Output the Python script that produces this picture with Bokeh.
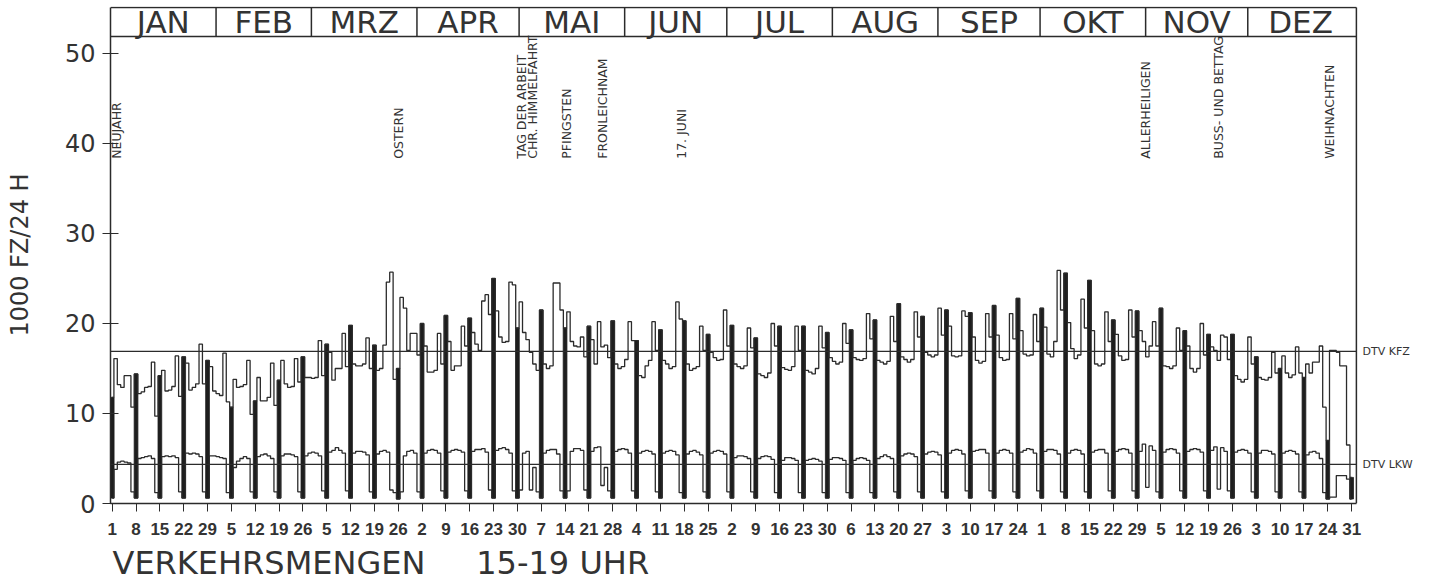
import math
from bokeh.plotting import figure
from bokeh.models import Range1d, FixedTicker, Title
from bokeh.core.properties import value
from bokeh.embed import file_html
from bokeh.resources import INLINE

# ---------------- data ----------------
months = ["JAN", "FEB", "MRZ", "APR", "MAI", "JUN", "JUL", "AUG", "SEP", "OKT", "NOV", "DEZ"]
month_start = [0, 31, 59, 90, 120, 151, 181, 212, 243, 273, 304, 334]
month_len = [31, 28, 31, 30, 31, 30, 31, 31, 30, 31, 30, 31]

# Sunday tick labels (1989, Jan 1 = Sunday)
sunday_labels = ["1", "8", "15", "22", "29", "5", "12", "19", "26", "5", "12", "19", "26",
                 "2", "9", "16", "23", "30", "7", "14", "21", "28", "4", "11", "18", "25",
                 "2", "9", "16", "23", "30", "6", "13", "20", "27", "3", "10", "17", "24",
                 "1", "8", "15", "22", "29", "5", "12", "19", "26", "3", "10", "17", "24", "31"]

# KFZ per week [So, Mo, Di, Mi, Do, Fr, Sa], 1000 Fz / 24 h
kfz_weeks = [
    [11.8, 16.1, 13.2, 12.9, 14.2, 14.2, 10.7],
    [14.4, 12.2, 12.4, 12.9, 13.0, 15.7, 9.7],
    [14.2, 14.8, 12.5, 12.6, 13.0, 16.4, 11.9],
    [16.3, 15.6, 12.6, 12.9, 13.3, 17.7, 13.3],
    [15.9, 15.2, 12.5, 12.2, 12.0, 16.7, 11.3],
    [10.7, 13.8, 12.9, 13.0, 13.2, 15.9, 9.9],
    [11.4, 14.0, 11.4, 11.4, 11.8, 15.6, 10.9],
    [13.7, 15.9, 13.3, 12.9, 13.0, 16.1, 13.5],
    [16.3, 14.0, 14.0, 13.9, 14.0, 18.1, 14.2],
    [17.7, 16.8, 13.7, 15.0, 15.0, 18.9, 15.2],
    [19.8, 15.5, 15.3, 15.3, 15.5, 18.4, 15.0],
    [17.6, 14.8, 15.0, 17.6, 24.6, 25.7, 13.8],
    [15.0, 22.9, 21.7, 17.0, 18.9, 18.9, 16.5],
    [20.0, 17.5, 14.6, 14.6, 14.8, 18.9, 15.5],
    [20.9, 18.0, 14.8, 15.3, 15.3, 19.7, 17.5],
    [20.6, 19.0, 17.7, 17.0, 22.5, 23.2, 21.0],
    [25.0, 21.4, 18.5, 17.9, 18.0, 24.6, 24.3],
    [19.5, 22.4, 19.0, 18.2, 16.8, 15.5, 14.8],
    [21.5, 15.5, 15.0, 15.3, 24.5, 24.5, 21.5],
    [19.5, 21.3, 18.0, 17.5, 17.4, 18.5, 16.3],
    [19.7, 18.2, 15.5, 20.2, 17.4, 17.6, 16.2],
    [20.3, 15.5, 15.0, 15.2, 16.0, 20.2, 18.1],
    [18.1, 14.2, 14.0, 15.3, 15.9, 20.2, 17.0],
    [19.3, 15.9, 15.5, 15.0, 15.2, 22.4, 20.5],
    [20.3, 15.5, 14.8, 15.0, 15.2, 19.7, 17.0],
    [18.8, 16.8, 16.2, 15.9, 16.0, 21.5, 17.5],
    [19.8, 15.5, 15.2, 15.0, 15.3, 19.5, 17.3],
    [18.4, 14.4, 14.2, 14.0, 14.5, 20.0, 17.5],
    [19.7, 15.1, 14.9, 14.8, 15.2, 19.7, 17.0],
    [19.7, 14.8, 14.6, 14.4, 15.0, 19.7, 17.3],
    [19.0, 16.2, 15.8, 15.5, 15.7, 20.0, 17.8],
    [19.3, 16.2, 16.0, 15.9, 16.1, 21.1, 18.3],
    [20.4, 15.9, 15.7, 15.5, 15.8, 20.8, 18.0],
    [22.2, 16.3, 16.0, 15.7, 16.0, 21.3, 18.5],
    [20.8, 16.8, 16.5, 16.3, 16.5, 21.7, 18.7],
    [21.5, 19.7, 16.4, 16.3, 16.4, 21.4, 20.8],
    [21.2, 18.5, 15.9, 15.6, 15.8, 21.1, 18.5],
    [22.0, 18.7, 16.2, 15.9, 16.0, 21.1, 18.3],
    [22.8, 19.2, 16.6, 16.4, 16.5, 21.0, 18.0],
    [21.7, 19.6, 16.6, 16.3, 18.0, 25.9, 21.5],
    [25.6, 20.1, 17.2, 16.1, 16.5, 22.7, 19.5],
    [24.8, 19.2, 15.5, 15.3, 15.5, 21.3, 18.0],
    [20.4, 18.8, 16.4, 15.9, 16.0, 21.5, 18.5],
    [21.4, 19.2, 18.0, 16.3, 17.5, 20.2, 17.5],
    [21.7, 15.3, 15.2, 15.0, 15.3, 19.5, 17.0],
    [19.2, 17.5, 15.0, 14.6, 15.0, 20.0, 16.5],
    [18.8, 17.4, 17.0, 15.9, 18.7, 18.5, 16.0],
    [18.8, 14.2, 13.8, 13.5, 13.8, 18.5, 15.5],
    [16.3, 14.0, 13.8, 13.7, 14.0, 16.8, 14.5],
    [15.0, 16.4, 14.5, 14.0, 14.3, 17.4, 14.5],
    [14.0, 15.5, 14.5, 15.7, 15.7, 17.5, 10.7],
    [7.0, 17.0, 17.0, 16.8, 15.3, 15.3, 6.5],
    [2.9],
]

# LKW per week [So, Mo, Di, Mi, Do, Fr, Sa]
lkw_weeks = [
    [0.6, 3.8, 4.6, 4.7, 4.6, 4.5, 1.3],
    [0.6, 5.0, 5.1, 5.2, 5.3, 5.0, 1.2],
    [0.6, 5.2, 5.3, 5.2, 5.3, 5.1, 1.3],
    [0.6, 5.6, 5.5, 5.6, 5.5, 5.2, 1.3],
    [0.6, 5.3, 5.3, 5.2, 5.1, 5.0, 1.2],
    [0.6, 4.0, 4.7, 5.0, 5.2, 5.0, 1.3],
    [0.6, 5.2, 5.4, 5.5, 5.3, 5.0, 1.3],
    [0.6, 5.3, 5.5, 5.5, 5.4, 5.2, 1.3],
    [0.6, 5.3, 5.6, 5.7, 5.6, 5.3, 1.4],
    [0.6, 5.7, 5.9, 6.2, 5.9, 5.6, 1.4],
    [0.6, 5.6, 5.8, 5.8, 5.7, 5.4, 1.3],
    [0.6, 5.5, 5.8, 5.9, 5.7, 1.5, 1.2],
    [0.5, 1.3, 5.3, 5.8, 5.9, 5.6, 1.3],
    [0.6, 5.6, 5.9, 6.0, 5.9, 5.6, 1.4],
    [0.6, 5.7, 5.9, 6.0, 5.9, 5.7, 1.4],
    [0.6, 5.8, 6.0, 6.0, 6.1, 5.7, 1.5],
    [0.6, 5.9, 6.1, 6.2, 6.0, 5.6, 1.4],
    [0.6, 1.5, 5.6, 5.8, 1.5, 4.0, 1.3],
    [0.6, 5.6, 5.9, 6.0, 6.0, 5.5, 1.4],
    [0.6, 1.4, 5.8, 6.1, 6.1, 5.9, 1.5],
    [0.6, 5.8, 6.2, 6.3, 2.0, 4.0, 1.4],
    [0.6, 5.8, 6.0, 6.1, 6.0, 5.6, 1.4],
    [0.6, 5.6, 5.8, 5.9, 5.8, 5.5, 1.3],
    [0.6, 5.6, 5.8, 5.9, 5.8, 5.4, 1.2],
    [0.6, 5.5, 5.8, 5.9, 5.7, 5.4, 1.3],
    [0.6, 5.6, 5.8, 5.9, 5.8, 5.5, 1.3],
    [0.6, 5.1, 5.3, 5.3, 5.2, 5.0, 1.3],
    [0.6, 5.0, 5.2, 5.3, 5.2, 4.9, 1.2],
    [0.6, 4.8, 5.1, 5.1, 5.0, 4.8, 1.2],
    [0.6, 4.8, 4.9, 5.0, 4.9, 4.7, 1.2],
    [0.6, 4.9, 5.1, 5.1, 5.0, 4.8, 1.2],
    [0.6, 4.8, 5.0, 5.1, 5.0, 4.8, 1.2],
    [0.6, 5.0, 5.2, 5.4, 5.2, 5.0, 1.3],
    [0.6, 5.3, 5.5, 5.6, 5.5, 5.2, 1.3],
    [0.6, 5.5, 5.7, 5.8, 5.7, 5.4, 1.3],
    [0.6, 5.6, 5.9, 6.0, 5.9, 5.5, 1.4],
    [0.6, 5.8, 5.9, 6.0, 6.0, 5.6, 1.4],
    [0.6, 5.6, 5.9, 6.0, 5.9, 5.6, 1.3],
    [0.6, 5.7, 5.9, 6.1, 6.0, 5.6, 1.4],
    [0.6, 5.8, 6.0, 6.0, 5.9, 5.5, 1.3],
    [0.6, 5.6, 5.9, 6.0, 5.9, 5.5, 1.3],
    [0.6, 5.7, 5.9, 6.0, 6.0, 5.6, 1.4],
    [0.6, 5.8, 6.0, 6.1, 6.0, 5.6, 1.4],
    [0.6, 5.8, 6.6, 1.8, 6.4, 5.9, 1.3],
    [0.6, 5.7, 6.0, 6.1, 6.0, 5.6, 1.4],
    [0.6, 5.8, 6.0, 6.1, 6.0, 5.7, 1.4],
    [0.6, 5.9, 6.3, 1.6, 6.2, 5.8, 1.4],
    [0.6, 5.7, 5.9, 6.0, 5.9, 5.6, 1.3],
    [0.6, 5.6, 5.9, 5.9, 5.8, 5.5, 1.3],
    [0.6, 5.6, 5.8, 5.9, 5.8, 5.5, 1.3],
    [0.6, 5.4, 5.7, 5.8, 5.6, 5.0, 1.2],
    [0.5, 0.7, 0.7, 3.1, 3.1, 3.1, 2.7],
    [0.5],
]

dtv_names = ["DTV KFZ", "DTV LKW"]
dtv_values = [16.9, 4.35]

holiday_names = ["NEUJAHR", "OSTERN", "TAG DER ARBEIT", "CHR. HIMMELFAHRT", "PFINGSTEN",
                 "FRONLEICHNAM", "17. JUNI", "ALLERHEILIGEN", "BUSS- UND BETTAG", "WEIHNACHTEN"]
holiday_day = [1.3, 84.1, 120.3, 123.4, 133.4, 144.1, 167.2, 303.5, 324.9, 357.5]

# ---------------- derived ----------------
kfz = [v for w in kfz_weeks for v in w]
lkw = [v for w in lkw_weeks for v in w]
days = list(range(len(kfz)))
sundays = days[::7]
kfz_sun = kfz[::7]
lkw_sun = lkw[::7]

INK = "#2b2b2b"
TXT = "#333333"
X0, X1 = -0.5, 365.4      # plotted year
Y_TOP = 55.1              # top of the month header box
HEADER = 51.9             # bottom of the month header box

p = figure(width=1432, height=585,
           x_range=Range1d(X0, 387.75), y_range=Range1d(0, 55.22),
           output_backend="svg", toolbar_location=None,
           min_border_left=110, min_border_right=0,
           min_border_top=6, min_border_bottom=82)
p.background_fill_color = "white"
p.border_fill_color = "white"
p.outline_line_color = None
p.xgrid.visible = False
p.ygrid.visible = False

# frame (right and top edges) and header box
p.segment(x0=[X1, X0, X0], y0=[0, Y_TOP, HEADER], x1=[X1, X1, X1], y1=[Y_TOP, Y_TOP, HEADER],
          line_color=INK, line_width=1.5)
sep_x = [m - 0.5 for m in month_start[1:]]
p.segment(x0=sep_x, y0=[HEADER] * len(sep_x), x1=sep_x, y1=[Y_TOP] * len(sep_x),
          line_color=INK, line_width=1.5)
month_cx = [s + l / 2 - 0.5 for s, l in zip(month_start, month_len)]
p.text(x=month_cx, y=[53.5] * 12, text=months, text_align="center",
       text_baseline="middle", text_font=value("DejaVu Sans"),
       text_font_size="31px", text_color=TXT)

# Sunday bars
p.vbar(x=sundays, width=1.1, bottom=lkw_sun, top=kfz_sun,
       fill_color="#1e1e1e", line_color="#1e1e1e", line_width=0.8)

# step lines
p.step(x=days, y=kfz, mode="center", line_color=INK, line_width=1.3)
p.step(x=days, y=lkw, mode="center", line_color=INK, line_width=1.3)

# DTV lines and labels
p.segment(x0=[X0] * 2, y0=dtv_values, x1=[X1] * 2, y1=dtv_values,
          line_color=INK, line_width=1.2)
p.text(x=[367.2] * 2, y=dtv_values, text=dtv_names, text_align="left",
       text_baseline="middle", text_font=value("DejaVu Sans"),
       text_font_size="11px", text_color=TXT)

# holiday labels
p.text(x=holiday_day, y=[38.3] * len(holiday_day), text=holiday_names,
       angle=math.pi / 2, text_align="left", text_baseline="middle",
       text_font=value("DejaVu Sans"), text_font_size="12.5px", text_color=TXT)

# axes
p.yaxis.bounds = (0, Y_TOP)
p.yaxis.ticker = FixedTicker(ticks=[0, 10, 20, 30, 40, 50])
p.yaxis.major_tick_in = 8
p.yaxis.major_tick_out = 8
p.yaxis.minor_tick_line_color = None
p.yaxis.major_label_standoff = 7
p.yaxis.major_label_text_font = "DejaVu Sans"
p.yaxis.major_label_text_font_size = "24px"
p.yaxis.major_label_text_color = TXT
p.yaxis.axis_label = "1000 FZ/24 H"
p.yaxis.axis_label_text_font = "DejaVu Sans"
p.yaxis.axis_label_text_font_style = "normal"
p.yaxis.axis_label_text_font_size = "24px"
p.yaxis.axis_label_text_color = TXT
p.yaxis.axis_label_standoff = 28
p.yaxis.axis_line_color = INK
p.yaxis.axis_line_width = 1.5
p.yaxis.major_tick_line_color = INK

p.xaxis.bounds = (X0, X1)
p.xaxis.ticker = FixedTicker(ticks=sundays)
p.xaxis.major_label_overrides = {d: lab for d, lab in zip(sundays, sunday_labels)}
p.xaxis.major_tick_in = 0
p.xaxis.major_tick_out = 8
p.xaxis.minor_tick_line_color = None
p.xaxis.major_label_standoff = 11
p.xaxis.major_label_text_font = "Liberation Sans"
p.xaxis.major_label_text_font_style = "bold"
p.xaxis.major_label_text_font_size = "17px"
p.xaxis.major_label_text_color = TXT
p.xaxis.axis_line_color = INK
p.xaxis.axis_line_width = 1.5
p.xaxis.major_tick_line_color = INK

# bottom title
NB = "\u00a0"
p.add_layout(Title(text="VERKEHRSMENGEN" + NB * 5 + "15-19 UHR", align="left", offset=2,
                   standoff=8, text_font="DejaVu Sans", text_font_style="normal",
                   text_font_size="32px", text_color=TXT), "below")

open("out.html", "w").write(file_html(p, INLINE))
